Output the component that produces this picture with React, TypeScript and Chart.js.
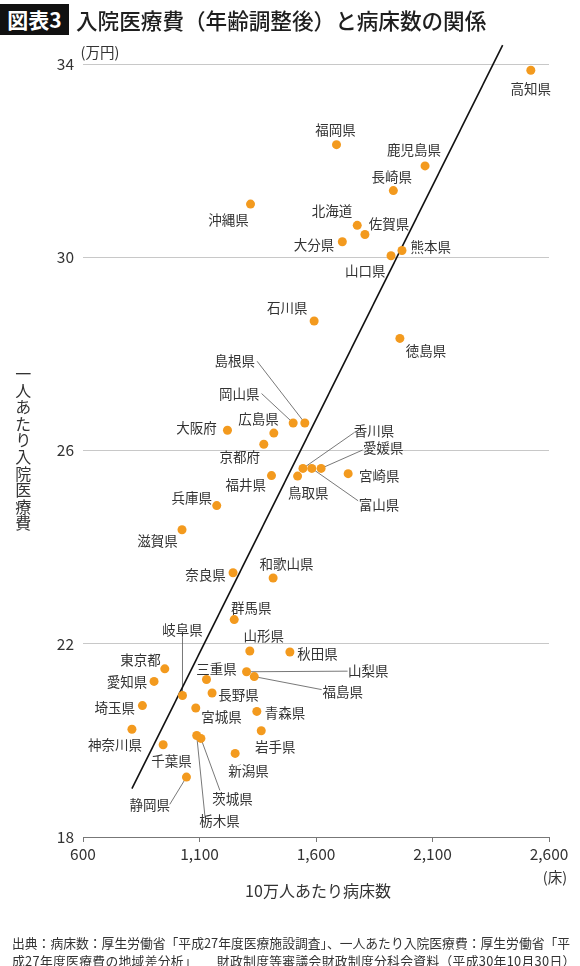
import React, { useEffect, useRef } from "react";
import { Chart, registerables } from "chart.js";

Chart.register(...registerables);

// ---------------- data ----------------
const prefectures = [
  "北海道", "青森県", "岩手県", "宮城県", "秋田県", "山形県", "福島県",
  "茨城県", "栃木県", "群馬県", "埼玉県", "千葉県", "東京都", "神奈川県",
  "新潟県", "富山県", "石川県", "福井県", "山梨県", "長野県", "岐阜県",
  "静岡県", "愛知県", "三重県", "滋賀県", "京都府", "大阪府", "兵庫県",
  "奈良県", "和歌山県", "鳥取県", "島根県", "岡山県", "広島県", "山口県",
  "徳島県", "香川県", "愛媛県", "高知県", "福岡県", "佐賀県", "長崎県",
  "熊本県", "大分県", "宮崎県", "鹿児島県", "沖縄県",
];

// 10万人あたり病床数（床）
const beds = [
  1777, 1346, 1365, 1084, 1488, 1316, 1335,
  1106, 1088, 1249, 855, 944, 951, 810,
  1253, 1582, 1592, 1409, 1302, 1154, 1027,
  1044, 905, 1130, 1025, 1376, 1220, 1174,
  1244, 1416, 1521, 1552, 1502, 1419, 1922,
  1960, 1544, 1622, 2522, 1688, 1810, 1932,
  1969, 1713, 1738, 2068, 1319,
];

// 一人あたり入院医療費（万円）
const costs = [
  30.66, 20.6, 20.2, 20.67, 21.83, 21.85, 21.32,
  20.04, 20.1, 22.5, 20.72, 19.91, 21.48, 20.23,
  19.73, 25.63, 28.68, 25.48, 21.42, 20.98, 20.93,
  19.24, 21.22, 21.26, 24.36, 26.13, 26.42, 24.86,
  23.47, 23.36, 25.47, 26.57, 26.57, 26.36, 30.03,
  28.32, 25.63, 25.63, 33.87, 32.33, 30.47, 31.38,
  30.14, 30.32, 25.52, 31.89, 31.1,
];

// 回帰直線の両端
const trendBeds = [810, 2401];
const trendCosts = [19.0, 34.39];

const xTickValues = [600, 1100, 1600, 2100, 2600];
const yTickValues = [18, 22, 26, 30, 34];

// ---------------- label layout (pixels, relative to dot) ----------------
type Lay = { dx: number; dy: number; lead?: [number, number] };
const labelLayout: Record<string, Lay> = {
  高知県: { dx: 0, dy: 18.3 },
  福岡県: { dx: -1, dy: -15 },
  鹿児島県: { dx: -11, dy: -16.4 },
  長崎県: { dx: -1.6, dy: -13.6 },
  沖縄県: { dx: -22, dy: 15.3 },
  北海道: { dx: -25.3, dy: -14.3 },
  佐賀県: { dx: 24, dy: -10.3 },
  大分県: { dx: -28.3, dy: 3.4 },
  熊本県: { dx: 28.7, dy: -3.3 },
  山口県: { dx: -25.7, dy: 15.4 },
  石川県: { dx: -27, dy: -13.4 },
  徳島県: { dx: 26, dy: 12 },
  島根県: { dx: -70, dy: -61.7, lead: [-47.7, -61.7] },
  岡山県: { dx: -54, dy: -29.4, lead: [-31.6, -29.4] },
  広島県: { dx: -15.3, dy: -14.4 },
  大阪府: { dx: -31, dy: -2.7 },
  京都府: { dx: -24, dy: 12.7 },
  香川県: { dx: 71, dy: -37.6, lead: [51, -35.6] },
  愛媛県: { dx: 62, dy: -20.3, lead: [41.4, -18.3] },
  富山県: { dx: 67.3, dy: 36.7, lead: [46.3, 32.4] },
  宮崎県: { dx: 31, dy: 1.7 },
  鳥取県: { dx: 10.6, dy: 16.7 },
  福井県: { dx: -25.7, dy: 9.7 },
  兵庫県: { dx: -25, dy: -7.7 },
  滋賀県: { dx: -24.6, dy: 10.7 },
  奈良県: { dx: -27.6, dy: 1.7 },
  和歌山県: { dx: 13.4, dy: -14 },
  群馬県: { dx: 17, dy: -12.2 },
  岐阜県: { dx: 0, dy: -65.7, lead: [0, -58.3] },
  山形県: { dx: 14, dy: -15 },
  秋田県: { dx: 27.7, dy: 1.6 },
  東京都: { dx: -24.3, dy: -9.4 },
  三重県: { dx: 10, dy: -10.3 },
  山梨県: { dx: 121.6, dy: -1.3, lead: [101, -0.6] },
  愛知県: { dx: -27, dy: 0 },
  福島県: { dx: 88.4, dy: 15.4, lead: [67.4, 13] },
  長野県: { dx: 26.4, dy: 2 },
  埼玉県: { dx: -27.7, dy: 2 },
  青森県: { dx: 28.3, dy: 1.4 },
  宮城県: { dx: 25.7, dy: 9.3 },
  神奈川県: { dx: -17, dy: 15.3 },
  岩手県: { dx: 14, dy: 16.4 },
  千葉県: { dx: 8.4, dy: 16.4 },
  新潟県: { dx: 13.4, dy: 17.4 },
  静岡県: { dx: -36.7, dy: 27.3, lead: [-16.7, 27.3] },
  茨城県: { dx: 31.7, dy: 60.7, lead: [19, 52] },
  栃木県: { dx: 22.7, dy: 85.7, lead: [8.3, 81.4] },
};

const FONT = '"Noto Sans CJK JP", "Noto Sans", sans-serif';
const TEXT = "#333333";
const ORANGE = "#f39a1e";

const labelPlugin = {
  id: "prefLabels",
  beforeDatasetsDraw(chart: any) {
    const meta = chart.getDatasetMeta(0);
    const ctx = chart.ctx;
    ctx.save();
    ctx.strokeStyle = "#555555";
    ctx.lineWidth = 0.8;
    prefectures.forEach((name, i) => {
      const lay = labelLayout[name];
      const el = meta.data[i];
      if (!lay || !lay.lead || !el) return;
      ctx.beginPath();
      ctx.moveTo(el.x + lay.lead[0], el.y + lay.lead[1]);
      ctx.lineTo(el.x, el.y);
      ctx.stroke();
    });
    ctx.restore();
  },
  afterDatasetsDraw(chart: any) {
    const meta = chart.getDatasetMeta(0);
    const ctx = chart.ctx;
    const area = chart.chartArea;
    ctx.save();
    ctx.fillStyle = TEXT;
    ctx.textAlign = "center";
    ctx.textBaseline = "middle";
    ctx.font = `13.5px ${FONT}`;
    prefectures.forEach((name, i) => {
      const lay = labelLayout[name];
      const el = meta.data[i];
      if (!lay || !el) return;
      ctx.fillText(name, el.x + lay.dx, el.y + lay.dy);
    });
    // units and x-axis title
    ctx.font = `14.5px ${FONT}`;
    ctx.fillText("(万円)", area.left + 17, area.top - 12);
    ctx.fillText("(床)", area.right + 6, area.bottom + 40);
    ctx.font = `16px ${FONT}`;
    ctx.fillText("10万人あたり病床数", (area.left + area.right) / 2 + 2, area.bottom + 54);
    ctx.restore();
  },
};

export default function App() {
  const ref = useRef<HTMLCanvasElement | null>(null);

  useEffect(() => {
    if (!ref.current) return;
    const chart = new Chart(ref.current, {
      type: "scatter",
      data: {
        datasets: [
          {
            label: "都道府県",
            data: beds.map((b, i) => ({ x: b, y: costs[i] })),
            backgroundColor: ORANGE,
            borderWidth: 0,
            pointRadius: 4.5,
            pointHoverRadius: 4.5,
          },
          {
            label: "回帰直線",
            data: trendBeds.map((b, i) => ({ x: b, y: trendCosts[i] })),
            showLine: true,
            borderColor: "#111111",
            borderWidth: 1.6,
            pointRadius: 0,
            fill: false,
            clip: false as any,
          },
        ],
      },
      options: {
        animation: false,
        responsive: false,
        maintainAspectRatio: false,
        layout: { padding: { top: 64, right: 31, bottom: 0, left: 0 } },
        plugins: {
          legend: { display: false },
          tooltip: { enabled: false },
        },
        scales: {
          x: {
            type: "linear",
            min: xTickValues[0],
            max: xTickValues[xTickValues.length - 1],
            afterBuildTicks: (s: any) => {
              s.ticks = xTickValues.map((v) => ({ value: v }));
            },
            afterFit: (s: any) => {
              s.height = 129;
            },
            grid: {
              drawOnChartArea: false,
              drawTicks: true,
              tickLength: 5,
              color: "#777777",
            },
            border: { display: true, color: "#777777", width: 1 },
            ticks: {
              font: { family: FONT, size: 15.5 },
              color: TEXT,
              padding: 3,
              maxRotation: 0,
              callback: (v: any) => Number(v).toLocaleString("en-US"),
            },
          },
          y: {
            type: "linear",
            min: yTickValues[0],
            max: yTickValues[yTickValues.length - 1],
            afterBuildTicks: (s: any) => {
              s.ticks = yTickValues.map((v) => ({ value: v }));
            },
            afterFit: (s: any) => {
              s.width = 83;
            },
            grid: { color: "#c8c8c8", drawTicks: false, lineWidth: 1 },
            border: { display: false },
            ticks: {
              font: { family: FONT, size: 15.5 },
              color: TEXT,
              padding: 9,
            },
          },
        },
      },
      plugins: [labelPlugin],
    } as any);
    return () => chart.destroy();
  }, []);

  return (
    <div
      style={{
        position: "absolute",
        left: 0,
        top: 0,
        width: 580,
        height: 966,
        background: "#ffffff",
        fontFamily: FONT,
        color: TEXT,
      }}
    >
      <canvas
        ref={ref}
        width={580}
        height={966}
        style={{ position: "absolute", left: 0, top: 0, display: "block" }}
      />
      <div
        style={{
          position: "absolute",
          left: 0,
          top: 4,
          width: 69,
          height: 31,
          background: "#111111",
          color: "#ffffff",
          fontWeight: 700,
          fontSize: 21,
          lineHeight: "31px",
          textAlign: "center",
        }}
      >
        図表3
      </div>
      <div
        style={{
          position: "absolute",
          left: 76,
          top: 4,
          height: 31,
          lineHeight: "31px",
          fontSize: 21.6,
          fontWeight: 500,
          color: "#1e1e1e",
          whiteSpace: "nowrap",
        }}
      >
        入院医療費（年齢調整後）と病床数の関係
      </div>
      <div
        style={{
          position: "absolute",
          left: 15.3,
          top: 366,
          writingMode: "vertical-rl",
          fontSize: 16,
          lineHeight: "16px",
          letterSpacing: "0.6px",
          color: TEXT,
          whiteSpace: "nowrap",
        }}
      >
        一人あたり入院医療費
      </div>
      <div
        style={{
          position: "absolute",
          left: 12,
          top: 933.5,
          fontSize: 12.8,
          lineHeight: "18.3px",
          color: TEXT,
          whiteSpace: "nowrap",
        }}
      >
        <div>出典：病床数：厚生労働省「平成27年度医療施設調査」、一人あたり入院医療費：厚生労働省「平</div>
        <div style={{ letterSpacing: "0.3px" }}>成27年度医療費の地域差分析」　　財政制度等審議会財政制度分科会資料（平成30年10月30日）</div>
      </div>
    </div>
  );
}
